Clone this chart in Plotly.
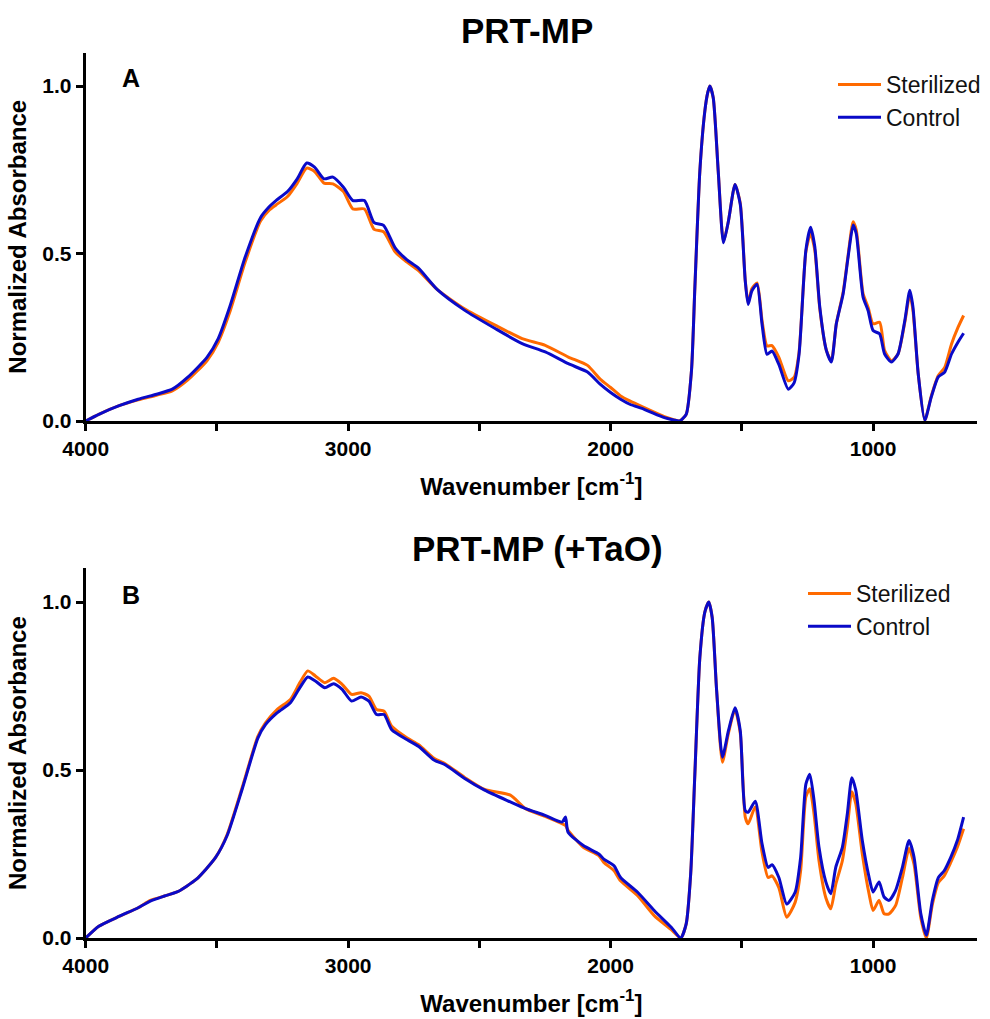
import plotly.graph_objects as go

# ---------------- data ----------------
top_wavenumber = [4000, 3950, 3875, 3800, 3730, 3670, 3612, 3538, 3495, 3451,
                  3392, 3334, 3300, 3275, 3231, 3194, 3158, 3128, 3092, 3058,
                  3018, 2982, 2938, 2901, 2865, 2821, 2777, 2733, 2660, 2557,
                  2440, 2337, 2249, 2161, 2088, 2040, 2000, 1962, 1927, 1872,
                  1795, 1760, 1737, 1712, 1692, 1679, 1660, 1641, 1630, 1622,
                  1609, 1590, 1570, 1551, 1526, 1506, 1487, 1476, 1462, 1442,
                  1423, 1404, 1385, 1359, 1323, 1301, 1282, 1256, 1238, 1222,
                  1203, 1178, 1159, 1140, 1114, 1095, 1076, 1064, 1038, 1019,
                  1000, 975, 956, 930, 905, 879, 860, 848, 828, 803,
                  778, 752, 727, 701, 676, 655]

top_control = [0.000, 0.020, 0.045, 0.065, 0.080, 0.095, 0.130, 0.190, 0.246, 0.341,
               0.490, 0.607, 0.640, 0.658, 0.685, 0.723, 0.770, 0.758, 0.723, 0.728,
               0.698, 0.658, 0.658, 0.592, 0.584, 0.517, 0.482, 0.457, 0.392, 0.331,
               0.276, 0.231, 0.206, 0.171, 0.146, 0.110, 0.085, 0.065, 0.050, 0.035,
               0.010, 0.003, 0.000, 0.020, 0.149, 0.398, 0.746, 0.925, 0.980, 1.000,
               0.965, 0.746, 0.532, 0.597, 0.706, 0.647, 0.418, 0.348, 0.388, 0.408,
               0.289, 0.199, 0.209, 0.169, 0.095, 0.114, 0.199, 0.510, 0.578, 0.520,
               0.340, 0.211, 0.176, 0.290, 0.380, 0.490, 0.585, 0.559, 0.370, 0.330,
               0.270, 0.260, 0.200, 0.176, 0.200, 0.300, 0.390, 0.340, 0.141, 0.002,
               0.072, 0.131, 0.146, 0.200, 0.236, 0.262]

top_sterilized = [0.000, 0.020, 0.045, 0.063, 0.077, 0.090, 0.122, 0.180, 0.235, 0.325,
                  0.475, 0.597, 0.630, 0.645, 0.670, 0.710, 0.755, 0.745, 0.710, 0.708,
                  0.685, 0.633, 0.633, 0.572, 0.565, 0.505, 0.475, 0.450, 0.392, 0.335,
                  0.286, 0.246, 0.226, 0.191, 0.166, 0.125, 0.100, 0.075, 0.060, 0.040,
                  0.013, 0.004, 0.000, 0.020, 0.149, 0.398, 0.746, 0.925, 0.980, 1.000,
                  0.965, 0.746, 0.535, 0.597, 0.706, 0.650, 0.420, 0.352, 0.395, 0.412,
                  0.300, 0.224, 0.225, 0.190, 0.120, 0.130, 0.205, 0.505, 0.560, 0.510,
                  0.335, 0.211, 0.180, 0.290, 0.385, 0.495, 0.595, 0.570, 0.380, 0.340,
                  0.290, 0.295, 0.210, 0.180, 0.200, 0.295, 0.378, 0.330, 0.141, 0.002,
                  0.075, 0.135, 0.160, 0.230, 0.280, 0.315]

bottom_wavenumber = [4000, 3950, 3871, 3800, 3754, 3700, 3652, 3578, 3505, 3461,
                     3403, 3344, 3315, 3271, 3220, 3184, 3154, 3125, 3089, 3055,
                     3023, 2987, 2951, 2921, 2892, 2863, 2834, 2775, 2731, 2673,
                     2629, 2556, 2480, 2382, 2324, 2250, 2185, 2172, 2162, 2104,
                     2045, 2026, 1987, 1962, 1897, 1833, 1769, 1733, 1712, 1695,
                     1679, 1660, 1641, 1626, 1613, 1596, 1574, 1551, 1526, 1506,
                     1487, 1476, 1449, 1423, 1400, 1385, 1359, 1329, 1297, 1276,
                     1256, 1241, 1225, 1206, 1180, 1161, 1142, 1117, 1098, 1081,
                     1066, 1041, 1015, 1000, 977, 958, 939, 914, 888, 863,
                     844, 818, 797, 774, 751, 729, 704, 679, 655]

bottom_control = [0.000, 0.035, 0.065, 0.090, 0.110, 0.125, 0.137, 0.175, 0.240, 0.305,
                  0.445, 0.595, 0.635, 0.670, 0.700, 0.745, 0.777, 0.765, 0.745, 0.757,
                  0.740, 0.705, 0.717, 0.705, 0.665, 0.665, 0.620, 0.590, 0.570, 0.530,
                  0.515, 0.475, 0.440, 0.405, 0.385, 0.365, 0.345, 0.360, 0.315, 0.275,
                  0.250, 0.235, 0.215, 0.180, 0.136, 0.081, 0.032, 0.000, 0.042, 0.190,
                  0.488, 0.835, 0.970, 1.000, 0.954, 0.736, 0.538, 0.617, 0.685, 0.617,
                  0.379, 0.374, 0.407, 0.280, 0.210, 0.218, 0.180, 0.101, 0.136, 0.240,
                  0.458, 0.487, 0.410, 0.270, 0.167, 0.132, 0.211, 0.270, 0.370, 0.477,
                  0.440, 0.290, 0.180, 0.137, 0.167, 0.122, 0.112, 0.142, 0.211, 0.290,
                  0.241, 0.072, 0.008, 0.112, 0.180, 0.200, 0.240, 0.290, 0.360]

bottom_sterilized = [0.000, 0.035, 0.065, 0.090, 0.112, 0.125, 0.137, 0.175, 0.240, 0.308,
                     0.450, 0.600, 0.640, 0.680, 0.710, 0.760, 0.795, 0.780, 0.760, 0.773,
                     0.755, 0.725, 0.730, 0.720, 0.680, 0.675, 0.630, 0.595, 0.575, 0.535,
                     0.518, 0.478, 0.442, 0.425, 0.385, 0.362, 0.340, 0.335, 0.320, 0.270,
                     0.245, 0.225, 0.200, 0.170, 0.126, 0.066, 0.025, 0.000, 0.042, 0.190,
                     0.488, 0.835, 0.970, 1.000, 0.954, 0.736, 0.523, 0.610, 0.680, 0.610,
                     0.360, 0.340, 0.390, 0.255, 0.180, 0.185, 0.150, 0.062, 0.106, 0.200,
                     0.420, 0.444, 0.370, 0.230, 0.120, 0.087, 0.160, 0.230, 0.330, 0.435,
                     0.400, 0.250, 0.130, 0.082, 0.112, 0.072, 0.072, 0.097, 0.180, 0.266,
                     0.220, 0.060, 0.000, 0.100, 0.165, 0.185, 0.225, 0.270, 0.325]

panel_titles = ["PRT-MP", "PRT-MP (+TaO)"]
panel_letters = ["A", "B"]
series_names = ["Sterilized", "Control"]
x_tick_values = [4000, 3000, 2000, 1000]
y_tick_values = [0.0, 0.5, 1.0]

# ---------------- styling ----------------
W, H = 990, 1019
FONT = "Liberation Sans, Arial, sans-serif"
ORANGE = "#FF6A00"
BLUE = "#0A0AC8"


def px_x(p):
    return p / W


def px_y(p):
    return 1 - p / H


fig = go.Figure()

panels = [
    dict(wn=top_wavenumber, s=top_sterilized, c=top_control, xa="x", ya="y", leg="legend"),
    dict(wn=bottom_wavenumber, s=bottom_sterilized, c=bottom_control, xa="x2", ya="y2", leg="legend2"),
]
for p in panels:
    for name, vals, col in [(series_names[0], p["s"], ORANGE), (series_names[1], p["c"], BLUE)]:
        fig.add_trace(go.Scatter(
            x=p["wn"], y=vals, name=name, mode="lines",
            line=dict(color=col, width=3, shape="spline", smoothing=0.6),
            xaxis=p["xa"], yaxis=p["ya"], legend=p["leg"],
        ))

axis_common = dict(
    showline=True, linecolor="black", linewidth=3,
    ticks="outside", ticklen=7, tickwidth=3, tickcolor="black",
    showgrid=False, zeroline=False, automargin=False,
    tickfont=dict(family=FONT, size=21, color="black", weight="bold"),
)

x_dom = [px_x(85.7), px_x(977)]
top_dom = [px_y(421), px_y(421 - 1.1 * 335)]
bot_dom = [px_y(938), px_y(938 - 1.1 * 336)]

xtitle = dict(text="Wavenumber [cm<sup>-1</sup>]",
              font=dict(family=FONT, size=24, color="black", weight="bold"), standoff=19)
ytitle = dict(text="Normalized Absorbance",
              font=dict(family=FONT, size=24, color="black", weight="bold"), standoff=9)

for xa, ya, dom in [("xaxis", "yaxis", top_dom), ("xaxis2", "yaxis2", bot_dom)]:
    yname = "y" if ya == "yaxis" else "y2"
    xname = "x" if xa == "xaxis" else "x2"
    fig.update_layout(**{
        xa: dict(axis_common, domain=x_dom, range=[4000, 604], anchor=yname,
                 tickmode="array", tickvals=x_tick_values,
                 minor=dict(dtick=500, tick0=0, ticks="outside", ticklen=7, tickwidth=3, tickcolor="black"),
                 title=xtitle),
        ya: dict(axis_common, domain=dom, range=[0, 1.1], anchor=xname,
                 tickmode="array", tickvals=y_tick_values, tickformat=".1f",
                 title=ytitle),
    })

legend_style = dict(font=dict(family=FONT, size=23, color="#111"), bgcolor="rgba(0,0,0,0)",
                    xanchor="left", yanchor="top", itemwidth=43, borderwidth=0)
fig.update_layout(
    legend=dict(legend_style, x=px_x(833), y=px_y(63)),
    legend2=dict(legend_style, x=px_x(803), y=px_y(572)),
)

annotations = []
for title, (cx, cy) in zip(panel_titles, [(527, 30), (537, 548)]):
    annotations.append(dict(text=title, x=px_x(cx), y=px_y(cy), xref="paper", yref="paper",
                            showarrow=False, xanchor="center", yanchor="middle",
                            font=dict(family=FONT, size=35, color="black", weight="bold")))
for letter, (cx, cy) in zip(panel_letters, [(131, 78), (131, 595)]):
    annotations.append(dict(text=letter, x=px_x(cx), y=px_y(cy), xref="paper", yref="paper",
                            showarrow=False, xanchor="center", yanchor="middle",
                            font=dict(family=FONT, size=25, color="black", weight="bold")))

fig.update_layout(
    width=W, height=H, margin=dict(l=0, r=0, t=0, b=0),
    paper_bgcolor="white", plot_bgcolor="white",
    showlegend=True, annotations=annotations,
)

fig.write_html("out.html")
